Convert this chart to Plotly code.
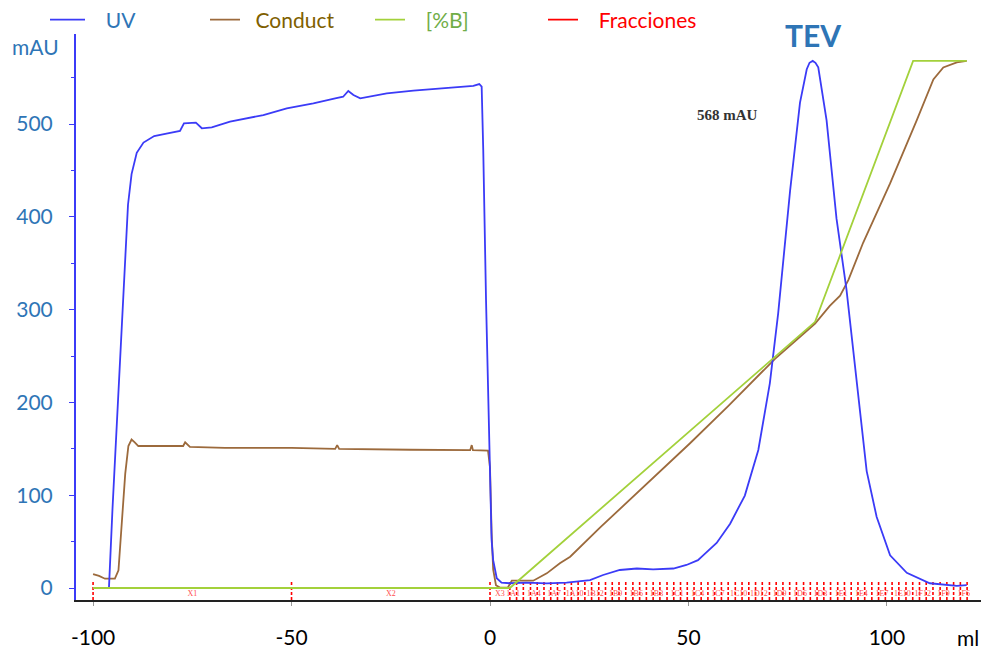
import plotly.graph_objects as go

# ---------------- data ----------------
uv_ml = [-100, -96.0, -95.1, -93.3, -92.0, -91.2, -90.3, -89.0, -87.3, -84.6, -81.2,
         -78.1, -77.1, -74.1, -72.6, -70.1, -65.5, -57.1, -51.2, -44.5, -39.0, -37.0,
         -35.7, -34.4, -32.7, -26.0, -19.3, -10.9, -4.2, -2.7, -2.1, -1.7, -1.0, 0.4,
         0.8, 1.7, 2.9, 5.0, 9.2, 14.3, 19.3, 25.2, 28.5, 32.7, 37.0, 41.1, 46.2, 49.5,
         52.4, 53.7, 57.1, 60.5, 64.2, 67.6, 70.5, 72.6, 75.6, 78.1, 79.8, 80.5, 81.3,
         82.0, 82.7, 84.8, 87.3, 89.8, 92.4, 94.9, 97.4, 100.8, 105.0, 110.8, 117.6, 120.1]
uv_mau = [0, 0, 86, 235, 346, 413, 446, 469, 480, 487, 490,
          492.5, 500.8, 501.4, 495.4, 496.4, 502.5, 509.7, 516.9, 522.3, 527.7, 529.4,
          535.6, 531.3, 527.7, 533.1, 535.9, 538.5, 541.0, 543.1, 540.2, 472, 310, 52,
          30, 10.5, 5.7, 5.1, 5.7, 5.0, 5.7, 8.6, 14, 19.4, 21, 20, 21, 24.8,
          30, 35.2, 48.5, 69.3, 99.6, 148.7, 220.6, 296, 428, 523, 559, 566, 568,
          566, 561, 504, 398, 322, 220.6, 126, 76.8, 35.2, 16.4, 5.1, 2.2, 3.2]

cond_ml = [-100, -98.5, -97.0, -94.5, -93.6, -92.8, -91.9, -91.1, -90.3, -89.5, -88.6,
           -77.3, -76.8, -75.6, -66.8, -50, -39, -38.5, -38, -20, -5, -4.6, -4.3, -0.5,
           0.0, 0.4, 0.8, 1.5, 2.5, 4.5, 5.5, 10.9, 14.3, 17.6, 20.2, 27.7, 40.3, 50.4,
           60.0, 71.8, 81.9, 85.6, 88.2, 90.3, 94.0, 100.8, 107.5, 111.7, 114.2, 117.6, 120.1]
cond_val = [15, 13, 10, 10, 19, 67, 123, 153, 160, 157, 153,
            153, 157, 152, 151, 151, 150, 154, 150, 149, 148.5, 154, 148.5, 148,
            130, 60, 20, 3, 0.5, 0.5, 7.9, 7.9, 15.8, 26.6, 33.7, 65, 115, 156,
            196, 247, 285, 304, 315, 332, 372, 436, 504, 548, 561, 566.5, 568]

pb_ml = [-100, 5.0, 81.9, 106.6, 120.1]
pb_pct = [0, 0, 50.5, 100, 100]

# fraction boundaries (ml)
frac_big = [-100, -50, 0]
frac_big_labels = ["X1", "X2", "X3"]
frac_big_label_ml = [-75, -25, 2.5]
frac_edges = [5.0, 6.7, 8.4, 10.2, 11.9, 13.6, 15.3, 17.0, 18.8, 20.5, 22.2, 23.9,
              25.6, 27.4, 29.1, 30.8, 32.5, 34.2, 36.0, 37.7, 39.4, 41.1, 42.8, 44.6,
              46.3, 48.0, 49.7, 51.4, 53.2, 54.9, 56.6, 58.3, 60.0, 61.8, 63.5, 65.2,
              66.9, 68.6, 70.4, 72.1, 73.8, 75.5, 77.2, 79.0, 80.7, 82.4, 84.1, 85.8,
              87.6, 89.3, 91.0, 92.7, 94.4, 96.2, 97.9, 99.6, 101.3, 103.0, 104.8, 106.5,
              108.2, 109.9, 111.6, 113.4, 115.1, 116.8, 118.5, 120.2]
frac_labels = ["1A1", "1A4", "1A7", "1A10", "1B12", "1B9", "1B6", "1B3", "1C1", "1C4",
               "1C7", "1C10", "1D12", "1D9", "1D6", "1D3", "1E1", "1E4", "1E7", "1E10",
               "1F12", "1F9", "1F6"]

x_ticks = [-100, -50, 0, 50, 100]
x_ticktext = ["-100", "-50", "0", "50", "100"]
y_ticks = [0, 100, 200, 300, 400, 500]

# ---------------- styling ----------------
BLUE_TXT = "#2E75B6"
UV_COL = "#3B3BF7"
COND_COL = "#9C6A3C"
PB_COL = "#A3D13B"
RED = "#FF0000"
FONT = "Lato, Liberation Sans, sans-serif"

Y_MIN, Y_MAX = -12.93, 597.0
PB_SCALE = 5.68  # 100 %B drawn at 568 mAU
X_MIN, X_MAX = -104.3, 123.7
FR_BOTTOM, FR_TOP = Y_MIN, 7.0
EM = "\u2003"
EN = "\u2002"


def px_x(p):
    return (p - 76) / 905


def px_y(p):
    return (600 - p) / 566


fig = go.Figure()

# fractions (dashed red marks)
fx, fy = [], []
for b in frac_big + frac_edges:
    fx += [b, b, None]
    fy += [FR_BOTTOM, FR_TOP, None]
fig.add_trace(go.Scatter(
    x=fx, y=fy, mode="lines", line=dict(color=RED, width=1.6, dash="3px,2px"),
    name="Fracciones", hoverinfo="skip", showlegend=False))
# legend entry for the fractions (solid red key, as in the reference)
fig.add_trace(go.Scatter(
    x=[None], y=[None], mode="lines", line=dict(color=RED, width=1.6),
    name=EM + f"<span style='color:{RED}'>Fracciones</span>", legend="legend4"))

# fraction labels
lab_x = list(frac_big_label_ml)
lab_t = list(frac_big_labels)
for k, name in enumerate(frac_labels):
    i = 3 * k
    lab_x.append((frac_edges[i] + frac_edges[i + 1]) / 2)
    lab_t.append(name)
fig.add_trace(go.Scatter(
    x=lab_x, y=[-6.5] * len(lab_x), mode="text", text=lab_t,
    textfont=dict(family="Liberation Serif, serif", size=8, color="#FF5050"),
    showlegend=False, hoverinfo="skip"))

fig.add_trace(go.Scatter(
    x=pb_ml, y=pb_pct, mode="lines", yaxis="y2",
    line=dict(color=PB_COL, width=1.8),
    name=EM + "<span style='color:#70AD47'>[%B]</span>", legend="legend3"))

fig.add_trace(go.Scatter(
    x=cond_ml, y=cond_val, mode="lines",
    line=dict(color=COND_COL, width=1.8),
    name=EN + "<span style='color:#7F6000'>Conduct</span>", legend="legend2"))

fig.add_trace(go.Scatter(
    x=uv_ml, y=uv_mau, mode="lines",
    line=dict(color=UV_COL, width=1.8),
    name=EM + f"<span style='color:{BLUE_TXT}'>UV</span>", legend="legend"))


def leg(px_left, iw):
    return dict(x=px_x(px_left), xanchor="left", y=px_y(20), yanchor="middle",
                itemwidth=iw, font=dict(family=FONT, size=21),
                bgcolor="rgba(0,0,0,0)", borderwidth=0,
                itemclick=False, itemdoubleclick=False)


fig.update_layout(
    width=987, height=652,
    margin=dict(l=76, r=6, t=34, b=52, autoexpand=False),
    paper_bgcolor="white", plot_bgcolor="white",
    font=dict(family=FONT, size=20, color="black"),
    showlegend=True,
    legend=leg(45, 35), legend2=leg(205, 30), legend3=leg(370, 30),
    legend4=leg(543, 30),
    xaxis=dict(range=[X_MIN, X_MAX], showgrid=False, zeroline=False,
               tickvals=x_ticks, ticktext=x_ticktext,
               ticks="outside", ticklen=4, tickcolor="#999999",
               ticklabelstandoff=14,
               tickfont=dict(family=FONT, size=21, color="black"),
               showline=True, linecolor="#222222", linewidth=1.5),
    yaxis=dict(range=[Y_MIN, Y_MAX], showgrid=False, zeroline=False,
               tickvals=y_ticks, ticks="outside", ticklen=5, tickcolor=UV_COL,
               minor=dict(dtick=50, ticks="outside", ticklen=3, tickcolor=UV_COL),
               ticklabelstandoff=12,
               tickfont=dict(family=FONT, size=21, color=BLUE_TXT),
               showline=True, linecolor=UV_COL, linewidth=2),
    yaxis2=dict(range=[Y_MIN / PB_SCALE, Y_MAX / PB_SCALE], overlaying="y",
                visible=False),
    annotations=[
        dict(text="mAU", xref="paper", yref="paper", x=px_x(35), y=px_y(46),
             xanchor="center", yanchor="middle", showarrow=False,
             font=dict(family=FONT, size=21, color=BLUE_TXT)),
        dict(text="ml", xref="paper", yref="paper", x=px_x(968), y=px_y(637),
             xanchor="center", yanchor="middle", showarrow=False,
             font=dict(family=FONT, size=21, color="black")),
        dict(text="<b>TEV</b>", xref="paper", yref="paper", x=px_x(813), y=px_y(35),
             xanchor="center", yanchor="middle", showarrow=False,
             font=dict(family=FONT, size=30, color=BLUE_TXT)),
        dict(text="<b>568 mAU</b>", xref="paper", yref="paper", x=px_x(727), y=px_y(115),
             xanchor="center", yanchor="middle", showarrow=False,
             font=dict(family="Liberation Serif, serif", size=15, color="#333333")),
    ],
)

fig.write_html("out.html")
